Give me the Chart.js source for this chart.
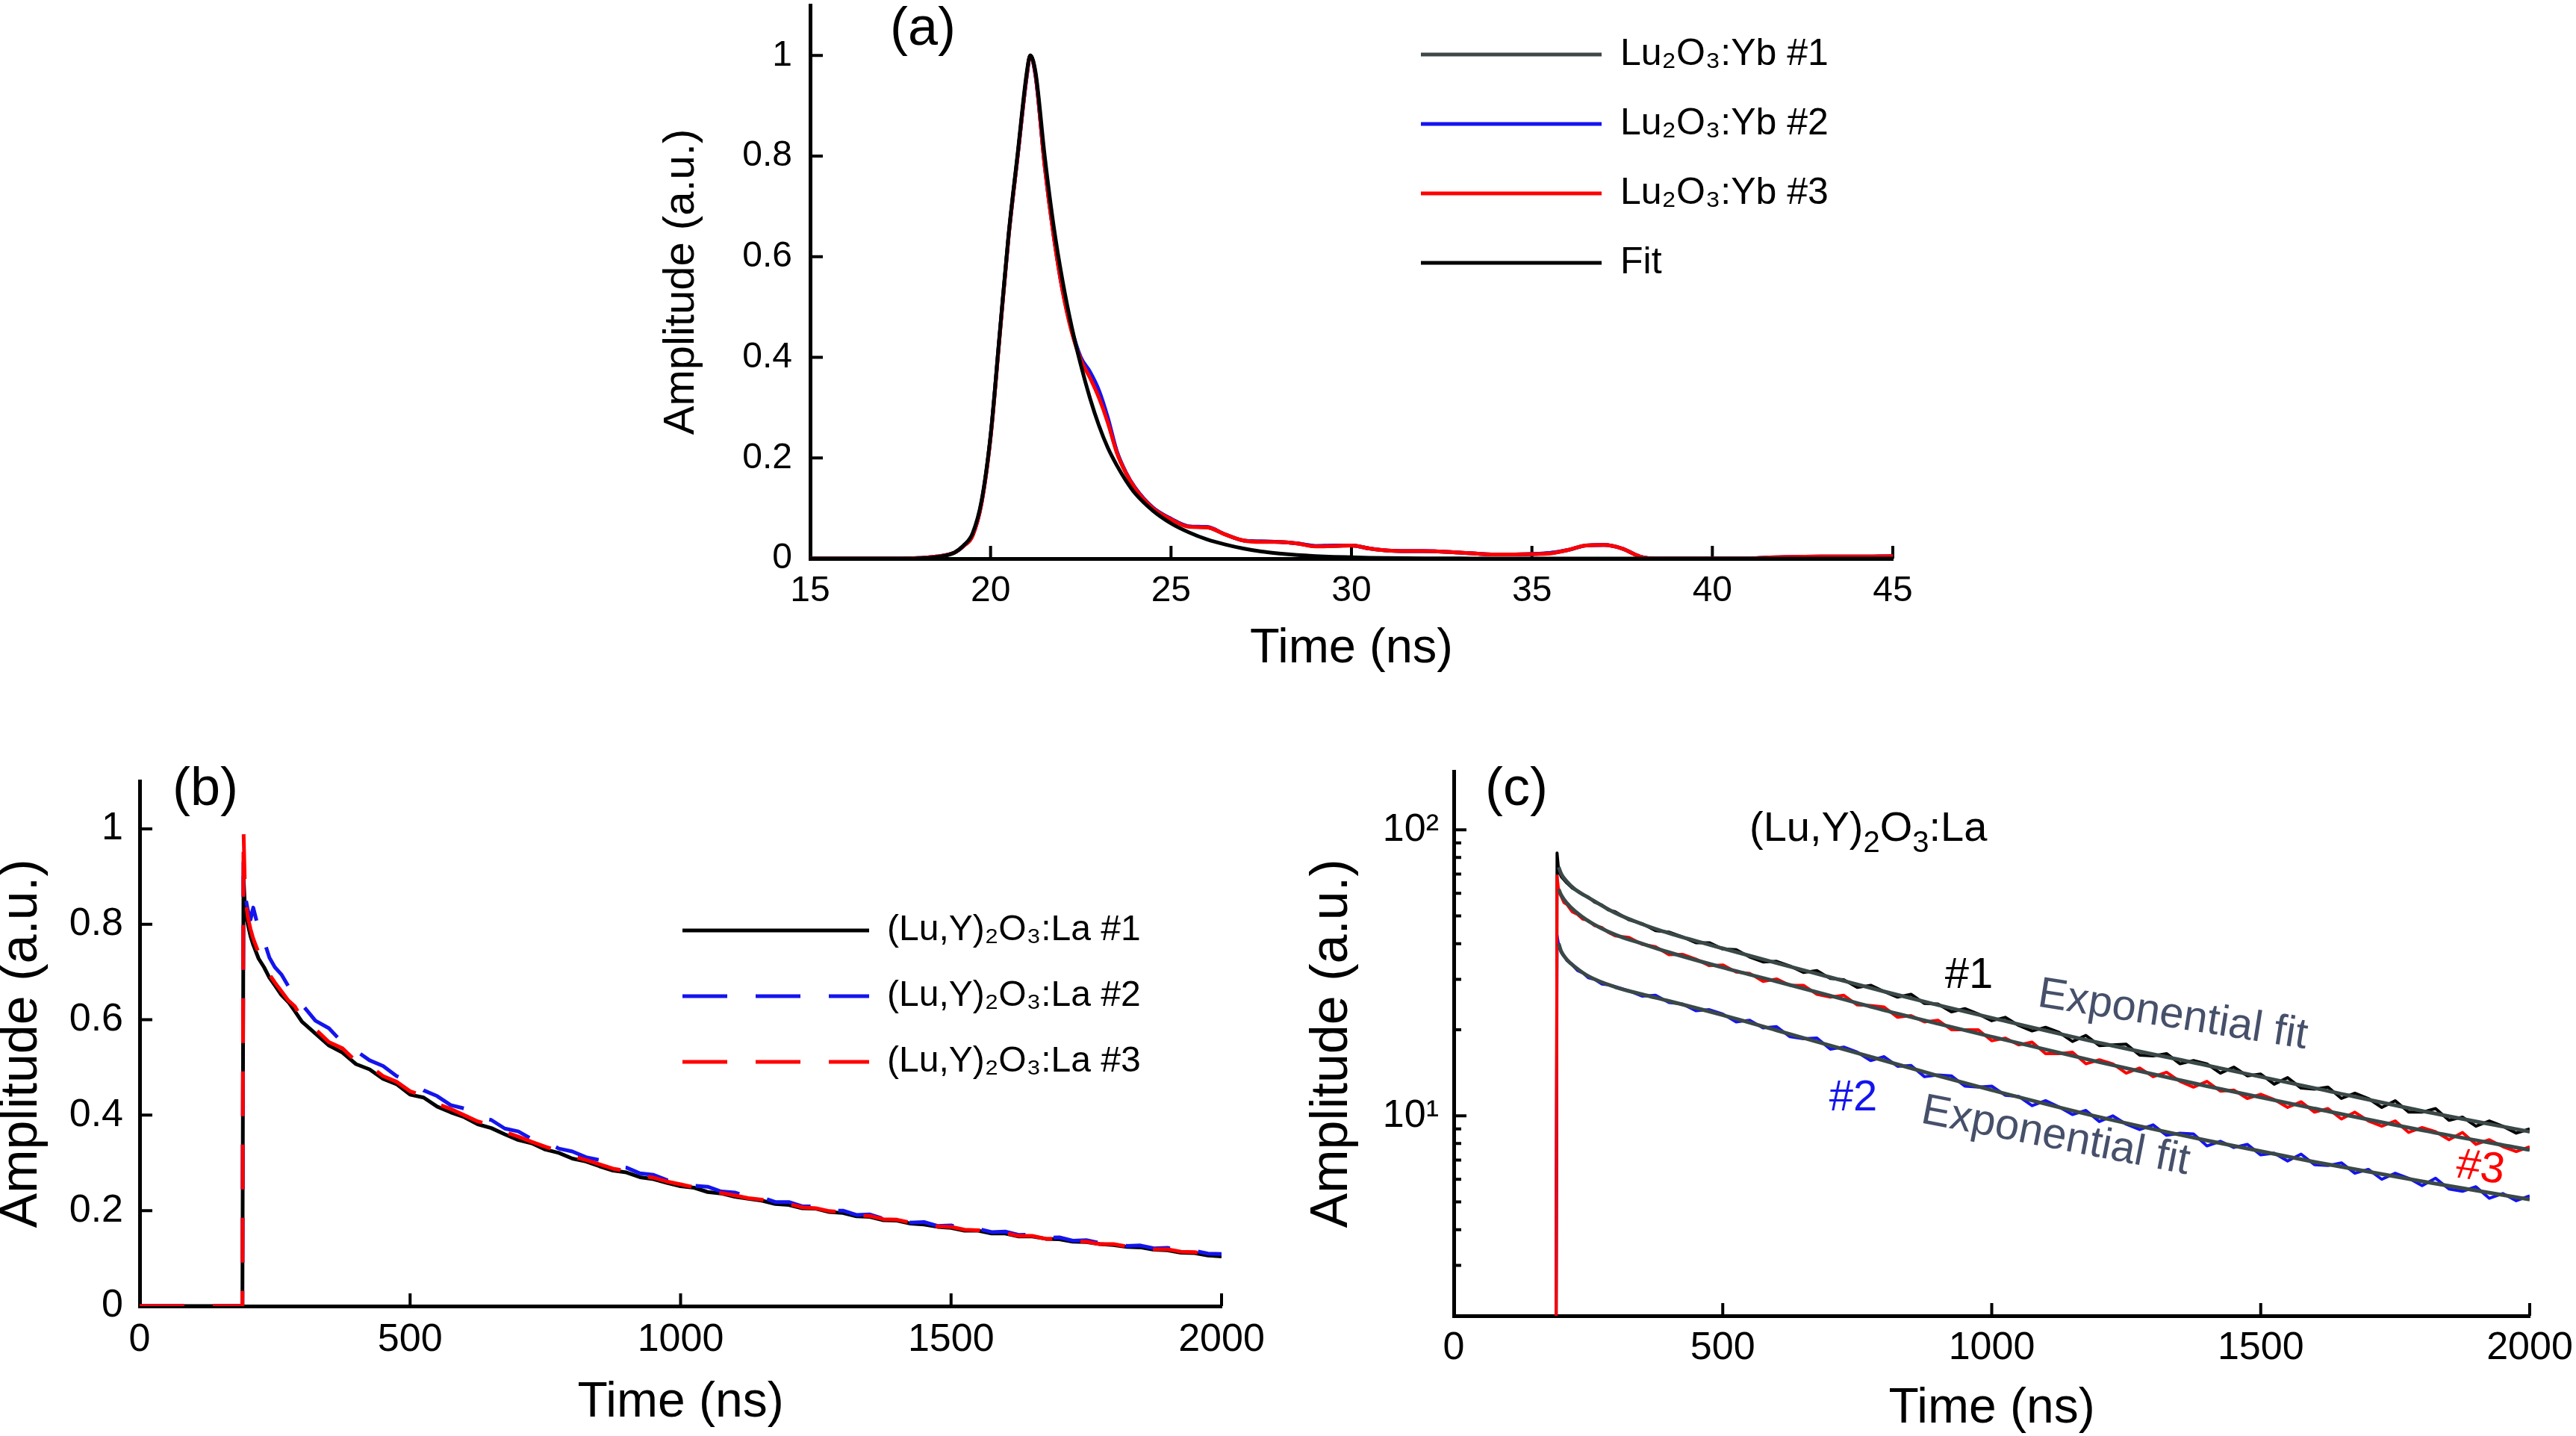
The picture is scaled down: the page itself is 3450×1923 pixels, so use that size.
<!DOCTYPE html>
<html><head><meta charset="utf-8">
<script src="https://cdn.jsdelivr.net/npm/chart.js@4.4.1/dist/chart.umd.min.js"></script>
<style>
html,body{margin:0;padding:0;background:#fff;}
body{width:3450px;height:1923px;position:relative;overflow:hidden;}
canvas{position:absolute;}
</style></head><body>
<canvas id="ca"></canvas><canvas id="cb"></canvas><canvas id="cc"></canvas>
<script>
const FONT = "'Liberation Sans', Arial, Helvetica, sans-serif";

// ---------- Panel (a) ----------
const timeA = [15,16,17,17.5,18,18.5,19,19.25,19.5,19.75,20,20.25,20.5,20.75,21,21.1,21.25,21.5,21.75,22,22.25,22.5,22.75,23,23.25,23.5,23.75,24,24.5,25,25.5,26,26.5,27,27.5,28,28.5,29,29.5,30,30.5,31,31.5,32,33,34,35,35.5,36,36.5,37,37.5,38,38.5,39,40,41,41.5,42,43,44,45];
const ybA1 = [0,0,0,0,0.001,0.004,0.012,0.025,0.046,0.112,0.243,0.443,0.642,0.80,0.958,1.0,0.958,0.78,0.642,0.532,0.452,0.398,0.365,0.325,0.272,0.212,0.171,0.141,0.101,0.079,0.064,0.062,0.048,0.036,0.034,0.033,0.03,0.025,0.025,0.026,0.02,0.016,0.015,0.015,0.012,0.008,0.009,0.011,0.017,0.026,0.027,0.02,0.004,0,0,0,0,0.002,0.003,0.004,0.004,0.005];
const ybA2 = [0,0,0,0,0.001,0.004,0.012,0.025,0.046,0.111,0.242,0.442,0.641,0.80,0.958,1.0,0.958,0.782,0.642,0.532,0.455,0.40,0.372,0.335,0.28,0.213,0.171,0.141,0.101,0.079,0.064,0.063,0.048,0.036,0.034,0.033,0.03,0.025,0.026,0.026,0.02,0.016,0.015,0.015,0.012,0.008,0.009,0.011,0.017,0.026,0.027,0.02,0.004,0,0,0,0,0.002,0.003,0.004,0.004,0.005];
const ybA3 = [0,0,0,0,0.001,0.004,0.012,0.025,0.045,0.11,0.24,0.44,0.64,0.80,0.96,1.0,0.96,0.78,0.64,0.53,0.45,0.395,0.36,0.32,0.27,0.21,0.17,0.14,0.10,0.078,0.063,0.062,0.048,0.036,0.033,0.033,0.03,0.024,0.025,0.026,0.02,0.016,0.015,0.015,0.012,0.008,0.009,0.01,0.017,0.026,0.027,0.02,0.004,0,0,0,0,0.002,0.003,0.004,0.004,0.005];
const fitA = [0,0,0,0,0.0005,0.003,0.012,0.026,0.05,0.115,0.245,0.445,0.645,0.805,0.965,1.0,0.965,0.80,0.66,0.55,0.46,0.385,0.32,0.265,0.22,0.185,0.155,0.13,0.095,0.07,0.052,0.038,0.028,0.02,0.014,0.01,0.007,0.005,0.0035,0.0025,0.0015,0.001,0.0007,0.0005,0.0002,0,0,0,0,0,0,0,0,0,0,0,0,0,0,0,0,0];
const legendA = ['Lu\u2082O\u2083:Yb #1','Lu\u2082O\u2083:Yb #2','Lu\u2082O\u2083:Yb #3','Fit'];
const xTicksA = [15,20,25,30,35,40,45];
const yTicksA = [0,0.2,0.4,0.6,0.8,1];

// ---------- Panels (b) and (c) ----------
const timeNs = [0,100,188,190,192,195,200,205,210,220,230,240,250,262,275,287,300,325,350,375,400,425,450,475,500,525,550,575,600,625,650,675,700,725,750,775,800,825,850,875,900,925,950,975,1000,1025,1050,1075,1100,1125,1150,1175,1200,1225,1250,1275,1300,1325,1350,1375,1400,1425,1450,1475,1500,1525,1550,1575,1600,1625,1650,1675,1700,1725,1750,1775,1800,1825,1850,1875,1900,1925,1950,1975,2000];
const bLa1 = [0,0,0,0,0.90,0.83,0.80,0.775,0.757,0.728,0.71,0.688,0.672,0.652,0.637,0.618,0.596,0.571,0.546,0.531,0.507,0.496,0.476,0.465,0.443,0.437,0.418,0.406,0.396,0.381,0.373,0.36,0.348,0.341,0.328,0.321,0.309,0.303,0.293,0.284,0.28,0.27,0.266,0.258,0.251,0.248,0.239,0.236,0.229,0.225,0.221,0.214,0.212,0.205,0.204,0.197,0.195,0.188,0.187,0.18,0.179,0.173,0.171,0.166,0.164,0.158,0.158,0.152,0.152,0.146,0.146,0.141,0.14,0.135,0.134,0.13,0.128,0.124,0.123,0.118,0.117,0.112,0.111,0.106,0.104];
const bLa2 = [0,0,0,0,0.93,0.86,0.83,0.81,0.835,0.79,0.765,0.73,0.71,0.695,0.67,0.662,0.632,0.598,0.582,0.552,0.535,0.515,0.503,0.482,0.47,0.452,0.44,0.421,0.414,0.395,0.39,0.372,0.366,0.35,0.345,0.33,0.324,0.312,0.306,0.293,0.29,0.278,0.275,0.264,0.262,0.252,0.25,0.24,0.238,0.229,0.228,0.218,0.218,0.209,0.209,0.2,0.2,0.191,0.192,0.183,0.184,0.175,0.176,0.168,0.169,0.161,0.162,0.155,0.156,0.149,0.15,0.143,0.144,0.137,0.138,0.132,0.133,0.126,0.127,0.121,0.122,0.116,0.116,0.11,0.109];
const bLa3 = [0,0,0,0,1.0,0.86,0.815,0.79,0.77,0.74,0.72,0.695,0.678,0.66,0.64,0.628,0.602,0.58,0.553,0.54,0.513,0.503,0.482,0.47,0.45,0.441,0.424,0.413,0.4,0.387,0.379,0.365,0.355,0.344,0.334,0.325,0.314,0.306,0.297,0.288,0.283,0.273,0.269,0.261,0.255,0.249,0.243,0.237,0.232,0.226,0.223,0.216,0.214,0.207,0.205,0.199,0.197,0.19,0.189,0.182,0.181,0.175,0.173,0.167,0.166,0.16,0.159,0.153,0.153,0.147,0.147,0.141,0.141,0.136,0.135,0.13,0.13,0.125,0.124,0.119,0.119,0.114,0.113,0.108,0.106];
const legendB = ['(Lu,Y)\u2082O\u2083:La #1','(Lu,Y)\u2082O\u2083:La #2','(Lu,Y)\u2082O\u2083:La #3'];
const xTicksB = [0,500,1000,1500,2000];
const yTicksB = [0,0.2,0.4,0.6,0.8,1];

const cLa1 = [null,null,null,1,83,72,68.5,66.8,65.2,62.6,61.2,59.3,58.2,55.8,54.6,52.5,51.7,48.5,47.0,44.4,43.9,42.2,40.3,40.3,38.3,38.1,35.9,34.5,34.7,33.4,31.7,32.2,30.2,29.9,28.1,28.6,27.2,26.0,26.6,24.7,24.6,23.1,23.7,22.7,21.5,22.1,20.7,19.8,20.4,19.6,18.2,19.1,17.6,17.7,17.8,16.3,16.2,16.5,15.2,15.6,15.2,14.1,14.8,13.8,14.0,12.9,13.6,12.5,12.4,12.6,11.5,12.0,11.5,10.7,11.3,10.3,10.3,10.6,9.65,9.9,9.2,9.6,9.2,8.7,9.0];
const cLa2 = [null,null,null,1,42.7,39.5,37.2,36.3,35.0,33.8,32.2,31.6,30.4,30.0,28.9,28.7,28.3,27.4,26.2,26.4,24.9,24.6,23.3,23.5,22.7,21.3,21.6,20.3,20.5,18.9,18.6,18.7,17.1,17.4,16.7,15.6,16.1,14.9,15.0,13.7,13.9,13.8,12.7,12.6,12.7,11.8,11.7,10.85,11.3,10.75,10.1,10.45,9.55,10.0,9.35,8.95,9.3,8.55,8.7,8.65,7.85,8.15,7.75,7.95,7.3,7.4,6.95,7.35,6.75,6.7,6.85,6.3,6.5,6.0,6.3,6.05,5.7,6.05,5.55,5.45,5.65,5.15,5.35,5.05,5.25];
const cLa3 = [null,null,null,1,69,61,58.3,55.6,54.9,51.7,50.6,48.7,48.2,46.2,45.6,43.8,42.6,42.1,39.8,39.0,36.6,36.7,35.3,33.5,33.7,31.8,31.5,29.5,30.1,28.6,28.6,26.6,26.0,26.4,24.4,24.3,24.0,22.1,22.4,21.3,21.6,20.0,20.0,20.0,18.3,18.7,17.7,18.1,16.5,16.5,16.7,15.2,15.7,15.2,14.1,14.7,13.7,14.2,13.2,12.6,13.2,12.2,12.3,11.5,11.9,11.4,10.7,11.2,10.3,10.6,9.75,10.3,9.6,9.2,9.6,8.75,9.1,8.8,8.25,8.75,7.95,8.25,7.8,7.5,7.8];
const fitTimeC = [195,200,210,225,250,300,350,400,500,600,700,800,900,1000,1200,1400,1600,1800,2000];
const fitC1 = [74,70,66,62,58,51.2,46.8,43.5,38.5,34.2,30.5,27.2,24.4,22.0,18.0,15.0,12.5,10.4,8.8];
const fitC2 = [40,37.5,35.2,33.2,30.8,28.2,26.6,25.2,22.5,19.9,17.6,15.6,13.8,12.3,9.9,8.2,6.9,5.9,5.1];
const fitC3 = [62,59,55.5,52,48,43,40,37.3,33,29.5,26.3,23.4,21.0,18.9,15.4,12.7,10.6,8.9,7.6];
const yTicksC = [2,3,4,5,6,7,8,9,10,20,30,40,50,60,70,80,90,100];
const yMajorC = [10,100];
const yLabelsC = {10:'10\u00B9', 100:'10\u00B2'};

// ---------- helpers ----------
const GRAY = '#3f4848', BLUE = '#1414ee', RED = '#ff0000', FITC = '#3b4848', SLATE = '#46506a';
function pts(xs, ys){ const o=[]; for(let i=0;i<xs.length;i++) o.push({x:xs[i], y:(ys[i]===undefined?null:ys[i])}); return o; }
function place(id, L, T, W, H){ const c=document.getElementById(id); c.width=W; c.height=H; c.style.left=L+'px'; c.style.top=T+'px'; c.style.width=W+'px'; c.style.height=H+'px'; return c; }

function tickPlugin(o){
  return {id:'inTicks', beforeDatasetsDraw(chart){
    const {ctx, chartArea:a} = chart; const xs=chart.scales.x, ys=chart.scales.y;
    ctx.save(); ctx.strokeStyle='#000'; ctx.lineWidth=o.lw; ctx.beginPath();
    xs.ticks.forEach(t=>{ const p=xs.getPixelForValue(t.value); if(Math.abs(p-a.left)<3) return; ctx.moveTo(p,a.bottom); ctx.lineTo(p,a.bottom-o.len); });
    ys.ticks.forEach(t=>{ const p=ys.getPixelForValue(t.value); if(Math.abs(p-a.bottom)<3) return;
      const L=(o.majors && !o.majors.includes(t.value)) ? o.minorLen : o.len; ctx.moveTo(a.left,p); ctx.lineTo(a.left+L,p); });
    ctx.stroke(); ctx.restore();
  }};
}
function legendPlace(off, lineX, rowY, fs, pad){
  return {id:'legendPlace', afterLayout(chart){
    const lg=chart.legend; if(!lg) return;
    lg.left=lineX-off.x-pad; lg.top=rowY-off.y-fs/2-pad;
    lg.width=1400; lg.height=900; lg.right=lg.left+1400; lg.bottom=lg.top+900;
  }};
}
function lineLabels(chart){
  const items = Chart.defaults.plugins.legend.labels.generateLabels(chart);
  items.forEach(it=>{ const ds=chart.data.datasets[it.datasetIndex];
    it.lineWidth=ds.borderWidth; it.lineDash=ds.borderDash||[]; it.strokeStyle=ds.borderColor; it.fillStyle=ds.borderColor; it.pointStyle='line'; it.lineCap='butt'; });
  return items.sort((a,b)=>a.datasetIndex-b.datasetIndex);
}
function textPlugin(off, items){
  return {id:'texts', afterDatasetsDraw(chart){
    const ctx=chart.ctx;
    items.forEach(it=>{
      ctx.save(); ctx.translate(it.x-off.x, it.y-off.y); if(it.rot) ctx.rotate(it.rot*Math.PI/180);
      ctx.fillStyle=it.color||'#000'; ctx.textBaseline='middle'; ctx.textAlign='left';
      const f=(sub)=>(sub?Math.round(it.size*0.72):it.size)+'px '+FONT;
      let w=0; it.segs.forEach(s=>{ ctx.font=f(s[1]); w+=ctx.measureText(s[0]).width; });
      let x = it.anchor==='left' ? 0 : -w/2;
      it.segs.forEach(s=>{ ctx.font=f(s[1]); ctx.fillText(s[0], x, s[1]? it.size*0.33 : 0); x+=ctx.measureText(s[0]).width; });
      ctx.restore();
    });
  }};
}
function xScale(o){
  return {type:'linear', min:o.min, max:o.max,
    grid:{display:false, drawTicks:false}, border:{display:true, color:'#000', width:5},
    ticks:{autoSkip:false, maxRotation:0, minRotation:0, includeBounds:false, padding:o.pad, color:'#000', font:{family:FONT, size:o.fs}, callback:v=>String(v)},
    afterBuildTicks:s=>{ s.ticks=o.ticks.map(v=>({value:v})); },
    afterFit:s=>{ s.height=o.h; },
    title:{display:true, text:'Time (ns)', color:'#000', font:{family:FONT, size:o.tfs}, padding:{top:0, bottom:o.tpb}}};
}
function yScale(o){
  return {type:o.type||'linear', min:o.min, max:o.max,
    grid:{display:false, drawTicks:false}, border:{display:true, color:'#000', width:5},
    ticks:{autoSkip:false, includeBounds:false, padding:o.pad, color:'#000', font:{family:FONT, size:o.fs}, callback:o.cb||(v=>String(v))},
    afterBuildTicks:s=>{ s.ticks=o.ticks.map(v=>({value:v})); },
    afterFit:s=>{ s.width=o.w; },
    title:{display:true, text:'Amplitude (a.u.)', color:'#000', font:{family:FONT, size:o.tfs, weight:o.tw||'normal'}, padding:{top:o.tpt, bottom:0}}};
}
const base = {responsive:false, animation:false, devicePixelRatio:1, events:[],
  elements:{point:{radius:0}, line:{tension:0, borderJoinStyle:'round'}}};

// ---------- Chart (a) ----------
const offA={x:865,y:-93};
place('ca', offA.x, offA.y, 1770, 1016);
new Chart(document.getElementById('ca'), {
  type:'line',
  data:{datasets:[
    {label:legendA[0], data:pts(timeA,ybA1), borderColor:GRAY, backgroundColor:GRAY, borderWidth:5, cubicInterpolationMode:'monotone', order:3},
    {label:legendA[1], data:pts(timeA,ybA2), borderColor:BLUE, backgroundColor:BLUE, borderWidth:5, cubicInterpolationMode:'monotone', order:2},
    {label:legendA[2], data:pts(timeA,ybA3), borderColor:RED, backgroundColor:RED, borderWidth:5, cubicInterpolationMode:'monotone', order:1},
    {label:legendA[3], data:pts(timeA,fitA), borderColor:'#000', backgroundColor:'#000', borderWidth:5, cubicInterpolationMode:'monotone', order:0}
  ]},
  options:Object.assign({}, base, {
    layout:{padding:{left:0, top:100, right:100, bottom:0}},
    scales:{
      x:xScale({min:15,max:45,ticks:xTicksA,fs:48,pad:15,h:175,tfs:65,tpb:15}),
      y:yScale({min:0,max:1.1,ticks:yTicksA,fs:48,pad:24,w:220,tfs:58,tpt:13})
    },
    plugins:{tooltip:{enabled:false},
      legend:{display:true, position:'chartArea', align:'start',
        labels:{usePointStyle:true, pointStyle:'line', pointStyleWidth:242, boxHeight:50, padding:43, color:'#000', textAlign:'left',
          font:{family:FONT, size:50}, generateLabels:lineLabels}}}
  }),
  plugins:[tickPlugin({lw:4,len:17}), legendPlace(offA,1903,73,50,43),
    textPlugin(offA,[{x:1236,y:40,size:72,segs:[['(a)',0]]}])]
});

// ---------- Chart (b) ----------
const offB={x:-63,y:946};
place('cb', offB.x, offB.y, 1799, 1003);
new Chart(document.getElementById('cb'), {
  type:'line',
  data:{datasets:[
    {label:legendB[0], data:pts(timeNs,bLa1), borderColor:'#000', backgroundColor:'#000', borderWidth:5, order:3},
    {label:legendB[1], data:pts(timeNs,bLa2), borderColor:BLUE, backgroundColor:BLUE, borderWidth:5, borderDash:[60,38], order:2},
    {label:legendB[2], data:pts(timeNs,bLa3), borderColor:RED, backgroundColor:RED, borderWidth:5, borderDash:[60,38], order:1}
  ]},
  options:Object.assign({}, base, {
    layout:{padding:{left:0, top:100, right:100, bottom:0}},
    scales:{
      x:xScale({min:0,max:2000,ticks:xTicksB,fs:52,pad:14,h:200,tfs:66,tpb:31}),
      y:yScale({min:0,max:1.1,ticks:yTicksB,fs:52,pad:22,w:250,tfs:70,tpt:51})
    },
    plugins:{tooltip:{enabled:false},
      legend:{display:true, position:'chartArea', align:'start',
        labels:{usePointStyle:true, pointStyle:'line', pointStyleWidth:250, boxHeight:48, padding:40, color:'#000', textAlign:'left',
          font:{family:FONT, size:48}, generateLabels:lineLabels}}}
  }),
  plugins:[tickPlugin({lw:4,len:17}), legendPlace(offB,914,1246,48,40),
    textPlugin(offB,[{x:275,y:1058,size:72,segs:[['(b)',0]]}])]
});

// ---------- Chart (c) ----------
const offC={x:1717,y:933};
place('cc', offC.x, offC.y, 1771, 1029);
new Chart(document.getElementById('cc'), {
  type:'line',
  data:{datasets:[
    {label:'#1', data:pts(timeNs,cLa1), borderColor:'#000', borderWidth:4, order:5},
    {label:'#2', data:pts(timeNs,cLa2), borderColor:BLUE, borderWidth:4, order:4},
    {label:'#3', data:pts(timeNs,cLa3), borderColor:RED, borderWidth:4, order:3},
    {label:'Exponential fit #1', data:pts(fitTimeC,fitC1), borderColor:FITC, borderWidth:5, cubicInterpolationMode:'monotone', order:0},
    {label:'Exponential fit #2', data:pts(fitTimeC,fitC2), borderColor:FITC, borderWidth:5, cubicInterpolationMode:'monotone', order:0},
    {label:'Exponential fit #3', data:pts(fitTimeC,fitC3), borderColor:FITC, borderWidth:5, cubicInterpolationMode:'monotone', order:0}
  ]},
  options:Object.assign({}, base, {
    layout:{padding:{left:0, top:100, right:100, bottom:0}},
    scales:{
      x:xScale({min:0,max:2000,ticks:xTicksB,fs:52,pad:12,h:200,tfs:66,tpb:36}),
      y:yScale({type:'logarithmic',min:2,max:160,ticks:yTicksC,fs:52,pad:20,w:230,tfs:70,tpt:26,cb:v=>yLabelsC[v]||''})
    },
    plugins:{tooltip:{enabled:false}, legend:{display:false}}
  }),
  plugins:[tickPlugin({lw:4,len:17,minorLen:10,majors:yMajorC}),
    textPlugin(offC,[
      {x:2031,y:1058,size:72,segs:[['(c)',0]]},
      {x:2343,y:1111,size:56,anchor:'left',segs:[['(Lu,Y)',0],['2',1],['O',0],['3',1],[':La',0]]},
      {x:2637,y:1307,size:58,segs:[['#1',0]]},
      {x:2910,y:1360,size:58,rot:9,color:SLATE,segs:[['Exponential fit',0]]},
      {x:2482,y:1471,size:58,color:BLUE,segs:[['#2',0]]},
      {x:2753,y:1522,size:58,rot:11,color:SLATE,segs:[['Exponential fit',0]]},
      {x:3322,y:1565,size:58,rot:8,color:RED,segs:[['#3',0]]}
    ])]
});
</script>
</body></html>
